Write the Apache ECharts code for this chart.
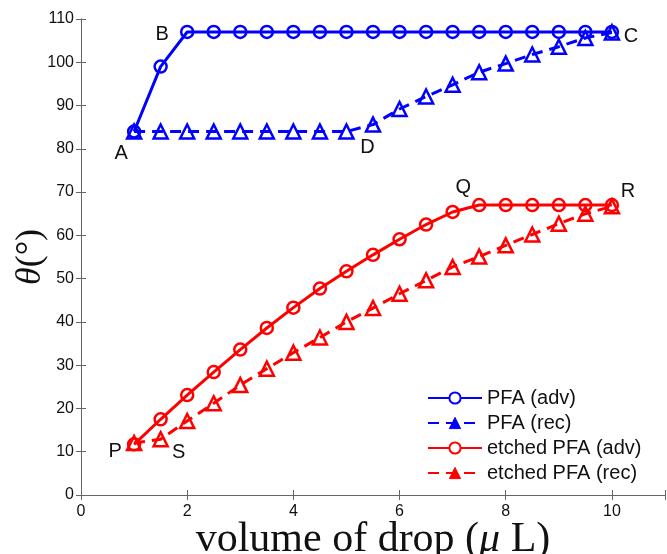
<!DOCTYPE html>
<html>
<head>
<meta charset="utf-8">
<script src="https://cdn.jsdelivr.net/npm/echarts@6/dist/echarts.min.js"></script>
<style>
  html, body { margin: 0; background: #fff; }
  #chart { width: 667px; height: 554px; }
</style>
</head>
<body>
<div id="chart"></div>
<script>
// 数据
const volume = [1, 1.5, 2, 2.5, 3, 3.5, 4, 4.5, 5, 5.5, 6, 6.5, 7, 7.5, 8, 8.5, 9, 9.5, 10]
const pfaAdv = [84, 99, 107, 107, 107, 107, 107, 107, 107, 107, 107, 107, 107, 107, 107, 107, 107, 107, 107]
const pfaRec = [84, 84, 84, 84, 84, 84, 84, 84, 84, 85.6, 89.2, 92.1, 94.8, 97.7, 99.7, 101.8, 103.6, 105.6, 106.9]
const etchedAdv = [11.7, 17.5, 23.1, 28.4, 33.6, 38.6, 43.3, 47.7, 51.7, 55.5, 59.1, 62.5, 65.4, 67, 67, 67, 67, 67, 67]
const etchedRec = [12, 12.9, 17.1, 21.2, 25.4, 29.2, 32.9, 36.4, 40, 43.2, 46.5, 49.6, 52.7, 55.1, 57.7, 60.2, 62.7, 65, 66.7]
const seriesNames = ['PFA (adv)', 'PFA (rec)', 'etched PFA (adv)', 'etched PFA (rec)']
const xTicks = [0, 2, 4, 6, 8, 10]
const yTicks = [0, 10, 20, 30, 40, 50, 60, 70, 80, 90, 100, 110]

// 点标注：字母 + 所在序列 + 数据下标
const pointLetters = ['A', 'B', 'C', 'D', 'P', 'Q', 'R', 'S']
const pointSeries = [0, 0, 0, 1, 2, 2, 2, 3]
const pointIndex = [0, 2, 18, 8, 0, 13, 18, 1]

// 标注文字偏移（样式）
const letterOffset = {
  A: [-13, 22], B: [-25, 3], C: [19, 5], D: [21, 16],
  P: [-19, 7], Q: [-16, -18], R: [16, -14], S: [18, 13]
}

const BLUE = '#0000ff'
const RED = '#ff0000'
const sansFont = 'Liberation Sans, Arial, Helvetica, sans-serif'
const serifFont = 'Liberation Serif, Times New Roman, serif'

const allValues = [pfaAdv, pfaRec, etchedAdv, etchedRec]
const colors = [BLUE, BLUE, RED, RED]
const dashed = [false, true, false, true]

const makeSeries = (i) => {
  const marks = []
  pointLetters.forEach((l, k) => {
    if (pointSeries[k] !== i) return
    const idx = pointIndex[k]
    marks.push({
      name: l,
      coord: [volume[idx], allValues[i][idx]],
      label: {offset: letterOffset[l]}
    })
  })
  return {
    name: seriesNames[i],
    type: 'line',
    data: volume.map((v, k) => [v, allValues[i][k]]),
    symbol: dashed[i] ? 'triangle' : 'circle',
    symbolSize: dashed[i] ? 14 : 12,
    lineStyle: {color: colors[i], width: 3, type: dashed[i] ? [11, 7] : 'solid'},
    itemStyle: {color: 'rgba(255,255,255,0)', borderColor: colors[i], borderWidth: 2.5},
    z: 3,
    markPoint: {
      symbol: 'circle',
      symbolSize: 0,
      silent: true,
      label: {
        show: true,
        position: 'inside',
        formatter: '{b}',
        color: '#111',
        fontSize: 20,
        fontFamily: sansFont
      },
      data: marks
    }
  }
}

const frameAxis = {
  axisLine: {show: true, lineStyle: {color: '#666', width: 1}},
  axisTick: {show: true, inside: true, length: 5, lineStyle: {color: '#666'}},
  axisLabel: {show: false},
  splitLine: {show: false}
}

const myChart = echarts.init(document.getElementById('chart'))
myChart.setOption({
  animation: false,
  backgroundColor: '#fff',
  grid: {left: 81, top: 19, right: 2, bottom: 59, outerBoundsMode: 'none', containLabel: false},
  legend: {
    orient: 'vertical',
    left: 422,
    top: 383,
    itemWidth: 54,
    itemHeight: 14,
    itemGap: 5,
    textStyle: {fontSize: 20, color: '#111', fontFamily: sansFont},
    data: seriesNames.map((n, i) => ({
      name: n,
      itemStyle: dashed[i]
        ? {color: colors[i], borderColor: colors[i], borderWidth: 1}
        : {color: '#fff', borderColor: colors[i], borderWidth: 2}
    }))
  },
  xAxis: [
    {
      type: 'value', min: 0, max: 11, interval: 2,
      name: '{t|volume of drop (}{i|μ}{t| L)}',
      nameLocation: 'middle',
      nameGap: 24,
      nameMoveOverlap: false,
      nameTextStyle: {
        rich: {
          t: {fontSize: 42, fontFamily: serifFont, color: '#111'},
          i: {fontSize: 42, fontFamily: serifFont, fontStyle: 'italic', color: '#111'}
        }
      },
      axisLine: {show: true, lineStyle: {color: '#666', width: 1}},
      axisTick: {show: true, inside: true, length: 5, lineStyle: {color: '#666'}},
      axisLabel: {
        fontSize: 16, color: '#111', fontFamily: sansFont, margin: 9,
        formatter: (v) => xTicks.includes(v) ? String(v) : ''
      },
      splitLine: {show: false}
    },
    Object.assign({type: 'value', min: 0, max: 11, interval: 2, position: 'top'}, frameAxis)
  ],
  yAxis: [
    {
      type: 'value', min: 0, max: 110, interval: 10,
      name: '{i|θ}{t|(°)}',
      nameLocation: 'middle',
      nameGap: 32,
      nameRotate: 90,
      nameMoveOverlap: false,
      nameTextStyle: {
        rich: {
          t: {fontSize: 36, fontFamily: serifFont, color: '#111'},
          i: {fontSize: 36, fontFamily: serifFont, fontStyle: 'italic', color: '#111'}
        }
      },
      axisLine: {show: true, lineStyle: {color: '#666', width: 1}},
      axisTick: {show: true, inside: true, length: 5, lineStyle: {color: '#666'}},
      axisLabel: {
        fontSize: 16, color: '#111', fontFamily: sansFont, margin: 7,
        formatter: (v) => yTicks.includes(v) ? String(v) : ''
      },
      splitLine: {show: false}
    },
    Object.assign({type: 'value', min: 0, max: 110, interval: 10, position: 'right'}, frameAxis)
  ],
  series: [0, 1, 2, 3].map(makeSeries)
})
</script>
</body>
</html>
